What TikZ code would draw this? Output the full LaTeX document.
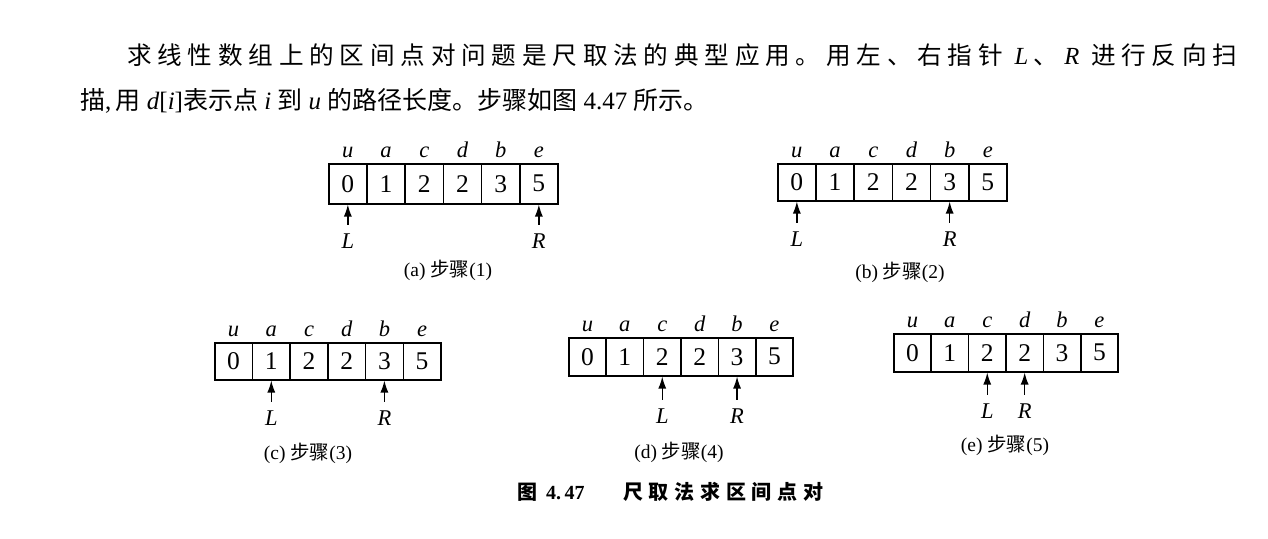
\documentclass[tikz,border=0pt]{standalone}
\usepackage{fontspec}
\setmainfont{Liberation Serif}
\newfontfamily\zhfont{Noto Sans CJK SC}
\usetikzlibrary{arrows.meta}
\newcommand\fsz[1]{\fontsize{#1pt}{#1pt}\selectfont}
\newcommand\gp{\hfill}
\tikzset{
 cell/.style={draw, line width=1.5pt, inner sep=0pt, anchor=north west, font=\fsz{25.5}},
 lab/.style={inner sep=0pt, anchor=base, font=\fsz{22.5}\itshape},
 ptrlab/.style={inner sep=0pt, font=\fsz{22.5}\itshape},
 ptr/.style={-{Latex[length=12pt,width=8pt]}, line width=1.3pt, shorten <=9pt},
 subcap/.style={inner sep=0pt, font=\fsz{19.5}},
 txt/.style={inner sep=0pt, anchor=base west},
}
\newcommand\arr[5]{%
 \foreach \dval/\lname [count=\i from 0] in {0/u,1/a,2/c,2/d,3/b,5/e}{
   \node[cell, minimum width=#5pt, minimum height=#4pt] (#1\i) at ({#2+\i*#5},#3) {\dval};
   \node[lab, yshift=6pt] (#1t\i) at (#1\i.north) {\lname};
 }}
\newcommand\ptrs[4]{%
 \path (#1#2.south) ++(0,#4) node[ptrlab] (#1L) {L};
 \path (#1#3.south) ++(0,#4) node[ptrlab] (#1R) {R};
 \draw[ptr] (#1L.north) -- (#1#2.south);
 \draw[ptr] (#1R.north) -- (#1#3.south);}
\begin{document}
\begin{tikzpicture}[x=1pt,y=-1pt]
\useasboundingbox[fill=white] (0,0) rectangle (1268,538);
% header text
\node[txt, font=\fsz{24.6}] (line1) at (127,64) {\zhfont\makebox[1110pt][l]{求\gp 线\gp 性\gp 数\gp 组\gp 上\gp 的\gp 区\gp 间\gp 点\gp 对\gp 问\gp 题\gp 是\gp 尺\gp 取\gp 法\gp 的\gp 典\gp 型\gp 应\gp 用\gp 。\gp 用\gp 左\gp 、\gp 右\gp 指\gp 针\gp\gp {\rmfamily\itshape L}\gp 、\gp {\rmfamily\itshape R}\gp\gp 进\gp 行\gp 反\gp 向\gp 扫}};
\node[txt, font=\fsz{25}] (line2) at (80,109) {{\zhfont 描},\,{\zhfont 用} \textit{d}[\textit{i}]{\zhfont 表示点} \textit{i} {\zhfont 到} \textit{u} {\zhfont 的路径长度。步骤如图} 4.47 {\zhfont 所示。}};
% panels
\arr{a}{328}{163}{40}{38.2}
\ptrs{a}{0}{5}{37}
\node[subcap] (acap) at (448,270) {(a) {\zhfont 步骤}(1)};
\arr{b}{777}{163}{37}{38.2}
\ptrs{b}{0}{4}{38}
\node[subcap] (bcap) at (900,272) {(b) {\zhfont 步骤}(2)};
\arr{c}{214}{342}{37}{37.7}
\ptrs{c}{1}{4}{38}
\node[subcap] (ccap) at (308,453) {(c) {\zhfont 步骤}(3)};
\arr{d}{568}{337}{38}{37.4}
\ptrs{d}{2}{4}{40}
\node[subcap] (dcap) at (679,452) {(d) {\zhfont 步骤}(4)};
\arr{e}{893}{333}{38}{37.4}
\ptrs{e}{2}{3}{39}
\node[subcap] (ecap) at (1005,445) {(e) {\zhfont 步骤}(5)};
% figure caption
\node[txt, font=\fsz{20}\zhfont\bfseries] (fig1) at (517,499) {图};
\node[txt, font=\fsz{20}\bfseries] (fig2) at (546,499) {4.\,47};
\node[txt, font=\fsz{20}\zhfont\bfseries] (fig3) at (623,499) {\makebox[200pt][l]{尺\gp 取\gp 法\gp 求\gp 区\gp 间\gp 点\gp 对}};
\end{tikzpicture}
\end{document}
